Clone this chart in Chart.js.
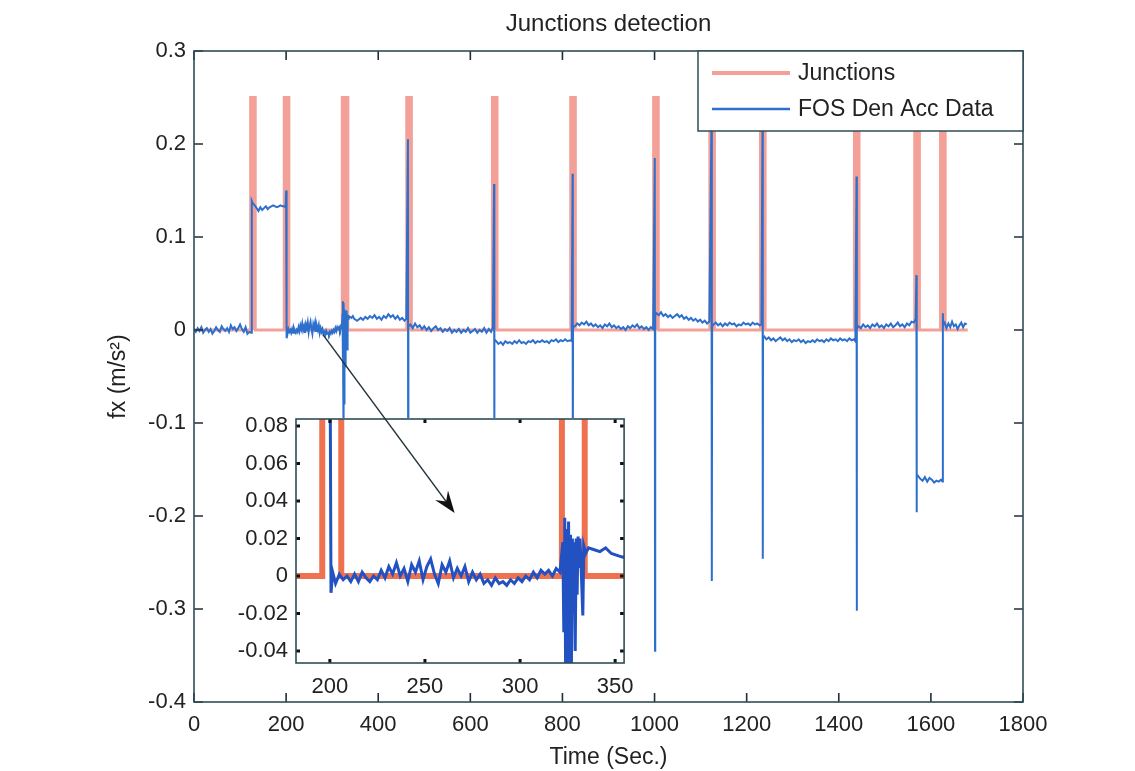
<!DOCTYPE html>
<html>
<head>
<meta charset="utf-8">
<title>Junctions detection</title>
<script src="https://cdn.jsdelivr.net/npm/chart.js@4.4.1/dist/chart.umd.min.js"></script>
<style>
  html, body { margin: 0; padding: 0; background: #fff; }
  #wrap { position: relative; width: 1135px; height: 771px; }
  #main { position: absolute; left: 0; top: 0; }
  #inset { position: absolute; left: 226px; top: 320px; }
</style>
</head>
<body>
<div id="wrap">
  <canvas id="main" width="1135" height="771"></canvas>
  <canvas id="inset" width="419" height="382"></canvas>
</div>
<script>
// tick values of both axes
const xTicks = [0, 200, 400, 600, 800, 1000, 1200, 1400, 1600, 1800];
const yTicks = [-0.4, -0.3, -0.2, -0.1, 0, 0.1, 0.2, 0.3];
const insetXTicks = [200, 250, 300, 350];
const insetYTicks = [-0.04, -0.02, 0, 0.02, 0.04, 0.06, 0.08];

// junction pulses (s)
const junctionStart = [123, 196, 322, 462, 648, 818, 998, 1120, 1230, 1434, 1565, 1621];
const junctionEnd   = [133, 206, 334, 472, 658, 828, 1008, 1130, 1240, 1444, 1575, 1631];
const junctionHeight = 0.25;
const trackEnd = 1680;

// FOS Den Acc Data, [time (s), fx (m/s^2)]
const fosSamples = [
  [0,0.001],[4,-0.002],[8,0.002],[12,-0.001],[16,0.003],[20,-0.003],[24,0.000],[28,0.002],
  [32,-0.002],[36,0.001],[40,-0.004],[44,-0.001],[48,0.003],[52,0.000],[56,-0.002],[60,0.004],
  [64,0.001],[68,-0.001],[72,0.002],[76,-0.002],[80,0.005],[84,0.001],[88,0.003],[92,-0.001],
  [96,0.002],[100,0.006],[104,0.001],[108,-0.002],[112,0.003],[116,-0.004],[120,-0.002],[124,-0.003],
  [125.5,0.139],
  [128,0.136],[132,0.134],[136,0.131],[140,0.128],[144,0.132],[148,0.129],[152,0.131],[156,0.133],
  [160,0.130],[164,0.132],[168,0.133],[172,0.134],[176,0.133],[180,0.132],[184,0.133],[188,0.134],
  [192,0.133],[196,0.133],[199,0.132],
  [200,0.150],[200.6,-0.009],
  [201.5,0.002],[203,-0.004],[205,0.001],[207,-0.002],[209,0.000],[211,-0.003],[213,0.001],[215,-0.003],
  [217,0.002],[219,-0.001],[221,-0.003],[223,0.000],[225,-0.002],[227,0.003],[229,-0.001],[231,0.005],
  [233,0.001],[235,0.007],[237,0.000],[239,0.004],[241,-0.003],[243,0.006],[245,0.002],[247,0.008],
  [249,-0.002],[251,0.005],[253,0.009],[255,0.001],[257,-0.004],[259,0.006],[261,0.002],[263,0.008],
  [265,-0.001],[267,0.004],[269,0.000],[271,0.005],[273,-0.003],[275,0.002],[277,-0.002],[279,0.001],
  [281,-0.004],[283,-0.002],[285,-0.005],[287,-0.001],[289,-0.004],[291,-0.003],[293,-0.005],[295,-0.002],
  [297,-0.004],[299,-0.001],[301,-0.003],[303,0.000],[305,-0.002],[307,0.002],[309,-0.001],[311,0.003],
  [313,0.001],[315,0.003],[317,0.000],[319,0.004],[321,0.002],
  [322.5,0.018],[323,-0.030],[323.3,0.012],[323.5,0.031],[324,-0.060],[324.3,0.010],[324.5,0.025],
  [325,-0.120],[325.5,0.029],[325.8,-0.010],[326,-0.080],[326.5,0.022],[326.8,-0.015],[327,-0.050],
  [327.5,0.020],[328,-0.020],[328.5,0.018],[329,-0.040],[329.5,0.020],[330,-0.010],[330.5,0.021],
  [331,0.005],[331.5,0.020],[332,0.008],[333,-0.021],[333.5,0.016],[334.5,0.012],
  [336,0.015],[339,0.014],[342,0.013],[345,0.015],[348,0.012],[351,0.011],[354,0.010],[357,0.011],
  [362,0.013],[367,0.011],[372,0.014],[377,0.012],[382,0.015],[387,0.013],[392,0.016],[397,0.012],
  [402,0.014],[407,0.011],[412,0.015],[417,0.013],[422,0.017],[427,0.014],[432,0.016],[437,0.012],
  [442,0.015],[447,0.011],[452,0.013],[457,0.010],[461,0.012],
  [464.5,0.205],[465,-0.150],[465.5,0.004],
  [470,0.006],[475,0.002],[480,0.007],[485,0.003],[490,0.005],[495,0.001],[500,0.004],[505,0.000],
  [510,0.003],[515,-0.001],[520,0.002],[525,0.004],[530,0.000],[535,0.002],[540,-0.002],[545,0.001],
  [550,-0.001],[555,0.002],[560,-0.003],[565,0.000],[570,-0.002],[575,0.001],[580,-0.003],[585,0.000],
  [590,-0.002],[595,0.002],[600,-0.003],[605,-0.001],[610,0.001],[615,-0.003],[620,0.000],[625,-0.002],
  [630,0.002],[635,-0.003],[640,0.001],[645,-0.002],[649,0.003],
  [651.5,0.157],[652,-0.150],[652.5,-0.010],
  [656,-0.012],[661,-0.015],[666,-0.013],[671,-0.016],[676,-0.012],[681,-0.014],[686,-0.013],[691,-0.015],
  [696,-0.012],[701,-0.014],[706,-0.011],[711,-0.014],[716,-0.013],[721,-0.015],[726,-0.012],[731,-0.013],
  [736,-0.011],[741,-0.014],[746,-0.012],[751,-0.013],[756,-0.011],[761,-0.013],[766,-0.012],[771,-0.014],
  [776,-0.011],[781,-0.012],[786,-0.010],[791,-0.013],[796,-0.011],[801,-0.012],[806,-0.010],[811,-0.012],
  [816,-0.011],[820,-0.012],
  [822,0.168],[822.5,-0.150],[823,0.003],
  [827,0.004],[832,0.007],[837,0.005],[842,0.008],[847,0.006],[852,0.009],[857,0.005],[862,0.007],
  [867,0.004],[872,0.006],[877,0.003],[882,0.005],[887,0.002],[892,0.006],[897,0.004],[902,0.007],
  [907,0.003],[912,0.005],[917,0.002],[922,0.004],[927,0.001],[932,0.003],[937,0.000],[942,0.004],
  [947,0.002],[952,0.005],[957,0.003],[962,0.006],[967,0.002],[972,0.004],[977,0.001],[982,0.003],
  [987,0.000],[992,0.003],[997,0.001],
  [1000.5,0.185],[1001,-0.345],[1001.5,0.016],
  [1004,0.018],[1009,0.016],[1014,0.019],[1019,0.015],[1024,0.017],[1029,0.014],[1034,0.016],[1039,0.013],
  [1044,0.015],[1049,0.017],[1054,0.014],[1059,0.016],[1064,0.012],[1069,0.014],[1074,0.011],[1079,0.013],
  [1084,0.010],[1089,0.012],[1094,0.009],[1099,0.011],[1104,0.008],[1109,0.010],[1114,0.007],[1119,0.009],
  [1123.5,0.220],[1124,0.020],[1124.3,0.105],[1124.7,-0.270],[1125,0.004],
  [1128,0.006],[1133,0.008],[1138,0.005],[1143,0.007],[1148,0.004],[1153,0.007],[1158,0.005],[1163,0.008],
  [1168,0.006],[1173,0.007],[1178,0.004],[1183,0.006],[1188,0.005],[1193,0.008],[1198,0.006],[1203,0.007],
  [1208,0.005],[1213,0.008],[1218,0.006],[1223,0.007],[1228,0.005],[1232,0.006],
  [1234.5,0.230],[1235,-0.246],[1235.5,-0.008],
  [1238,-0.007],[1243,-0.010],[1248,-0.008],[1253,-0.011],[1258,-0.009],[1263,-0.012],[1268,-0.010],[1273,-0.008],
  [1278,-0.011],[1283,-0.009],[1288,-0.012],[1293,-0.010],[1298,-0.013],[1303,-0.011],[1308,-0.012],[1313,-0.010],
  [1318,-0.013],[1323,-0.011],[1328,-0.014],[1333,-0.012],[1338,-0.013],[1343,-0.011],[1348,-0.013],[1353,-0.010],
  [1358,-0.012],[1363,-0.011],[1368,-0.013],[1373,-0.010],[1378,-0.012],[1383,-0.009],[1388,-0.011],[1393,-0.010],
  [1398,-0.012],[1403,-0.009],[1408,-0.011],[1413,-0.010],[1418,-0.012],[1423,-0.009],[1428,-0.011],[1433,-0.010],
  [1436,-0.012],
  [1438.5,0.165],[1439,-0.302],[1439.5,0.002],
  [1443,0.004],[1448,0.002],[1453,0.006],[1458,0.003],[1463,0.005],[1468,0.002],[1473,0.006],[1478,0.004],
  [1483,0.007],[1488,0.003],[1493,0.005],[1498,0.002],[1503,0.006],[1508,0.004],[1513,0.007],[1518,0.003],
  [1523,0.005],[1528,0.008],[1533,0.004],[1538,0.006],[1543,0.003],[1548,0.007],[1553,0.005],[1558,0.009],
  [1563,0.008],[1567,0.012],
  [1568.5,0.059],[1569,-0.196],[1569.5,-0.155],
  [1572,-0.157],[1577,-0.160],[1582,-0.162],[1587,-0.158],[1592,-0.163],[1597,-0.159],[1602,-0.161],[1607,-0.164],
  [1612,-0.162],[1617,-0.163],[1622,-0.161],[1625,-0.163],
  [1626,0.018],[1626.5,0.005],
  [1630,0.008],[1634,0.002],[1638,0.007],[1642,0.003],[1646,0.009],[1650,0.004],[1654,0.006],[1658,0.001],
  [1662,0.005],[1666,0.008],[1670,0.003],[1674,0.007],[1678,0.006]
];

// arrow: from a point of the main axes to a point of the inset axes
const arrowFrom = [280, -0.005];
const arrowTo = [265.6, 0.0336];

const FONT = "'Liberation Sans', Arial, Helvetica, sans-serif";
const TEXT = '#222';
const AXIS = '#2f4d57';
const JUNCTION_RED = '#f3a198';
Chart.defaults.font.family = FONT;
Chart.defaults.color = TEXT;

function junctionPoints() {
  const pts = [{ x: 0, y: 0 }];
  junctionStart.forEach((s, i) => {
    const e = junctionEnd[i];
    pts.push({ x: s, y: 0 }, { x: s, y: junctionHeight }, { x: e, y: junctionHeight }, { x: e, y: 0 });
  });
  pts.push({ x: trackEnd, y: 0 });
  return pts;
}
const fosPoints = fosSamples.map(([x, y]) => ({ x, y }));

// MATLAB style box with inward ticks on all four sides
const boxTicks = {
  id: 'boxTicks',
  afterDatasetsDraw(chart, args, opts) {
    const { ctx, chartArea: a, scales: { x, y } } = chart;
    ctx.save();
    ctx.strokeStyle = opts.tickColor;
    ctx.lineWidth = opts.tickWidth;
    ctx.beginPath();
    x.ticks.forEach(t => {
      const px = x.getPixelForValue(t.value);
      ctx.moveTo(px, a.bottom); ctx.lineTo(px, a.bottom - opts.len);
      ctx.moveTo(px, a.top); ctx.lineTo(px, a.top + opts.len);
    });
    y.ticks.forEach(t => {
      const py = y.getPixelForValue(t.value);
      ctx.moveTo(a.left, py); ctx.lineTo(a.left + opts.len, py);
      ctx.moveTo(a.right, py); ctx.lineTo(a.right - opts.len, py);
    });
    ctx.stroke();
    ctx.strokeStyle = AXIS;
    ctx.lineWidth = opts.boxWidth;
    ctx.strokeRect(a.left, a.top, a.right - a.left, a.bottom - a.top);
    ctx.restore();
  }
};

// legend box in the upper right corner of the axes
const cornerLegend = {
  id: 'cornerLegend',
  afterDraw(chart) {
    const { ctx, chartArea: a } = chart;
    const left = 698, top = a.top, right = a.right, bottom = 131;
    ctx.save();
    ctx.fillStyle = '#fff';
    ctx.fillRect(left, top, right - left, bottom - top);
    ctx.strokeStyle = AXIS;
    ctx.lineWidth = 1.5;
    ctx.strokeRect(left, top, right - left, bottom - top);
    const rows = [73, 109];
    chart.data.datasets.forEach((ds, i) => {
      ctx.strokeStyle = ds.borderColor;
      ctx.lineWidth = i === 0 ? 4 : 2.5;
      ctx.beginPath();
      ctx.moveTo(712, rows[i]);
      ctx.lineTo(790, rows[i]);
      ctx.stroke();
      ctx.fillStyle = TEXT;
      ctx.font = '23px ' + FONT;
      ctx.textBaseline = 'middle';
      ctx.fillText(ds.label, 798, rows[i] + 1);
    });
    ctx.restore();
  }
};

const mainChart = new Chart(document.getElementById('main'), {
  type: 'line',
  data: {
    datasets: [
      { label: 'Junctions', data: junctionPoints(), borderColor: JUNCTION_RED,
        backgroundColor: JUNCTION_RED, fill: 'origin', order: 1,
        borderWidth: 3, pointRadius: 0, tension: 0, clip: 0 },
      { label: 'FOS Den Acc Data', data: fosPoints, borderColor: '#2c6fcc', order: 0,
        borderWidth: 2, pointRadius: 0, tension: 0, clip: 0 }
    ]
  },
  options: {
    responsive: false,
    animation: false,
    devicePixelRatio: 1,
    events: [],
    layout: { padding: { left: 0, right: 112, top: 0, bottom: 0 } },
    plugins: {
      legend: { display: false },
      tooltip: { enabled: false },
      title: {
        display: true, text: 'Junctions detection', fullSize: false, color: TEXT,
        font: { size: 24, weight: 'normal' }, padding: { top: 10, bottom: 12.2 }
      },
      boxTicks: { len: 9, tickWidth: 1.6, tickColor: '#1e2f36', boxWidth: 1.6 }
    },
    scales: {
      x: {
        type: 'linear', min: 0, max: 1800,
        afterBuildTicks: s => { s.ticks = xTicks.map(v => ({ value: v })); },
        afterFit: s => { s.height = 69; },
        grid: { display: false, drawTicks: false }, border: { display: false },
        ticks: { padding: 10, autoSkip: false, maxRotation: 0, font: { size: 22 }, callback: v => String(v) },
        title: { display: true, text: 'Time (Sec.)', font: { size: 23 }, padding: { top: 0, bottom: 0 } }
      },
      y: {
        type: 'linear', min: -0.4, max: 0.3,
        afterBuildTicks: s => { s.ticks = yTicks.map(v => ({ value: v })); },
        afterFit: s => { s.width = 194; },
        grid: { display: false, drawTicks: false }, border: { display: false },
        ticks: { padding: 8, autoSkip: false, font: { size: 22 }, callback: v => String(v) },
        title: { display: true, text: 'fx (m/s²)', font: { size: 23 }, padding: { top: 105, bottom: 0 } }
      }
    }
  },
  plugins: [boxTicks, cornerLegend]
});

const insetCanvas = document.getElementById('inset');

// white backing for the inset axes so the main traces are hidden under it
const insetBack = {
  id: 'insetBack',
  beforeDraw(chart) {
    const { ctx, chartArea: a } = chart;
    ctx.save();
    ctx.fillStyle = '#fff';
    ctx.fillRect(a.left - 1, a.top - 1, a.right - a.left + 2, a.bottom - a.top + 2);
    ctx.restore();
  }
};

const insetArrow = {
  id: 'insetArrow',
  afterDraw(chart) {
    const { ctx, scales } = chart;
    const ox = insetCanvas.offsetLeft, oy = insetCanvas.offsetTop;
    const x0 = mainChart.scales.x.getPixelForValue(arrowFrom[0]) - ox;
    const y0 = mainChart.scales.y.getPixelForValue(arrowFrom[1]) - oy;
    const x1 = scales.x.getPixelForValue(arrowTo[0]);
    const y1 = scales.y.getPixelForValue(arrowTo[1]);
    const ang = Math.atan2(y1 - y0, x1 - x0);
    const hl = 22, hw = 8;
    ctx.save();
    ctx.strokeStyle = '#24343b';
    ctx.fillStyle = '#111';
    ctx.lineWidth = 1.5;
    ctx.beginPath();
    ctx.moveTo(x0, y0);
    ctx.lineTo(x1 - Math.cos(ang) * hl * 0.6, y1 - Math.sin(ang) * hl * 0.6);
    ctx.stroke();
    const bx = x1 - Math.cos(ang) * hl, by = y1 - Math.sin(ang) * hl;
    const mx = x1 - Math.cos(ang) * hl * 0.65, my = y1 - Math.sin(ang) * hl * 0.65;
    ctx.beginPath();
    ctx.moveTo(x1, y1);
    ctx.lineTo(bx - Math.sin(ang) * hw, by + Math.cos(ang) * hw);
    ctx.lineTo(mx, my);
    ctx.lineTo(bx + Math.sin(ang) * hw, by - Math.cos(ang) * hw);
    ctx.closePath();
    ctx.fill();
    ctx.restore();
  }
};

new Chart(insetCanvas, {
  type: 'line',
  data: {
    datasets: [
      { label: 'Junctions', data: junctionPoints(), borderColor: '#f0714f', order: 1,
        borderWidth: 6, pointRadius: 0, tension: 0, clip: 0 },
      { label: 'FOS Den Acc Data', data: fosPoints, borderColor: '#2251c2', order: 0,
        borderWidth: 3, pointRadius: 0, tension: 0, clip: 0 }
    ]
  },
  options: {
    responsive: false,
    animation: false,
    devicePixelRatio: 1,
    events: [],
    layout: { padding: { left: 0, right: 18, top: 99, bottom: 0 } },
    plugins: {
      legend: { display: false },
      tooltip: { enabled: false },
      boxTicks: { len: 4, tickWidth: 3, tickColor: '#111', boxWidth: 1.6 }
    },
    scales: {
      x: {
        type: 'linear', min: 182.2, max: 354.7,
        afterBuildTicks: s => { s.ticks = insetXTicks.map(v => ({ value: v })); },
        afterFit: s => { s.height = 39; },
        grid: { display: false, drawTicks: false }, border: { display: false },
        ticks: { padding: 11, autoSkip: false, maxRotation: 0, font: { size: 22 }, callback: v => String(v) }
      },
      y: {
        type: 'linear', min: -0.0464, max: 0.0837,
        afterBuildTicks: s => { s.ticks = insetYTicks.map(v => ({ value: v })); },
        afterFit: s => { s.width = 70; },
        grid: { display: false, drawTicks: false }, border: { display: false },
        ticks: { padding: 8, autoSkip: false, font: { size: 22 }, callback: v => String(v) }
      }
    }
  },
  plugins: [insetBack, boxTicks, insetArrow]
});
</script>
</body>
</html>
